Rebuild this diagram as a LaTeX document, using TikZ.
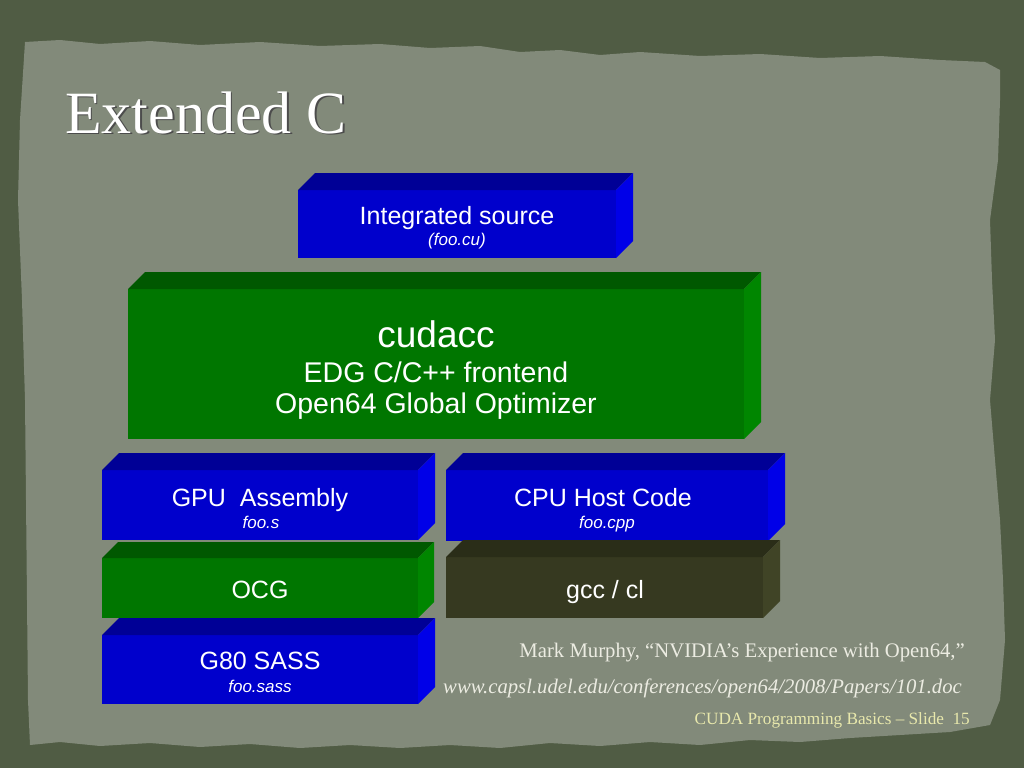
\documentclass[tikz,border=0pt]{standalone}
\usepackage{fontspec}
\newfontfamily\arialf{Liberation Sans}
\newfontfamily\serf{Liberation Serif}
\definecolor{outerbg}{RGB}{80,92,68}
\definecolor{paper}{RGB}{130,138,122}
\definecolor{bfront}{RGB}{0,0,204}
\definecolor{btop}{RGB}{0,0,150}
\definecolor{bside}{RGB}{0,0,232}
\definecolor{gfront}{RGB}{0,118,0}
\definecolor{gtop}{RGB}{0,88,0}
\definecolor{gside}{RGB}{0,134,0}
\definecolor{ofront}{RGB}{54,57,32}
\definecolor{otop}{RGB}{42,45,24}
\definecolor{oside}{RGB}{64,68,38}
\definecolor{citecol}{RGB}{236,236,226}
\definecolor{footcol}{RGB}{232,232,172}
\newcommand\boxfaces[4]{%
  \fill[#2] (#1.north west) -- ++(#4,-#4) -- ([shift={(#4,-#4)}]#1.north east) -- (#1.north east) -- cycle;
  \fill[#3] (#1.north east) -- ++(#4,-#4) -- ([shift={(#4,-#4)}]#1.south east) -- (#1.south east) -- cycle;}
\tikzset{
  face/.style={inner sep=0pt, outer sep=0pt},
  lbl/.style={inner sep=0pt, text=white, font=\arialf, anchor=base},
  cite/.style={inner sep=0pt, anchor=base east, text=citecol},
}
\begin{document}
\begin{tikzpicture}[x=1pt,y=-1pt]
\useasboundingbox (0,0) rectangle (1024,768);
\fill[outerbg] (0,0) rectangle (1024,768);
\fill[paper] (25,42) -- (60,40) -- (100,44) -- (150,41) -- (200,45) -- (260,42) -- (320,46) -- (380,44) -- (430,48) -- (480,46) -- (520,52) -- (560,50) -- (600,55) -- (640,52) -- (700,56) -- (760,54) -- (820,58) -- (880,56) -- (940,60) -- (985,62) -- (1000,70)
 -- (1000,100) -- (998,160) -- (990,220) -- (992,280) -- (995,340) -- (990,400) -- (995,460) -- (1000,520) -- (1003,580) -- (1005,640) -- (1000,700) -- (990,725)
 -- (950,732) -- (900,735) -- (850,738) -- (800,742) -- (750,740) -- (700,745) -- (650,742) -- (600,746) -- (550,743) -- (500,748) -- (450,745) -- (400,748) -- (350,745) -- (300,748) -- (250,744) -- (200,747) -- (150,743) -- (100,746) -- (60,742) -- (30,745)
 -- (28,700) -- (27,600) -- (26,500) -- (25,400) -- (22,300) -- (18,200) -- (20,120) -- cycle;

% title
\node[inner sep=0pt, anchor=base west, text=black!70, font=\serf\fontsize{60}{66}\selectfont] (titlesh) at (66.5,134.5) {Extended C};
\node[inner sep=0pt, anchor=base west, text=white, font=\serf\fontsize{60}{66}\selectfont] (title) at (65,133) {Extended C};

% integrated source
\node[face, fill=bfront, minimum width=318pt, minimum height=68pt] (src) at (457,224) {};
\boxfaces{src}{btop}{bside}{17}
\node[lbl, font=\arialf\fontsize{25}{30}\selectfont] (srct) at (457,224) {Integrated source};
\node[lbl, font=\arialf\itshape\fontsize{17}{20}\selectfont] (srcf) at (457,245) {(foo.cu)};

% cudacc
\node[face, fill=gfront, minimum width=616pt, minimum height=150pt] (cc) at (436,364) {};
\boxfaces{cc}{gtop}{gside}{17}
\node[lbl, font=\arialf\fontsize{37}{44}\selectfont] (cct) at (436,347) {cudacc};
\node[lbl, font=\arialf\fontsize{28.5}{34}\selectfont] (edg) at (436,382) {EDG C/C++ frontend};
\node[lbl, font=\arialf\fontsize{28.5}{34}\selectfont] (o64) at (436,413) {Open64 Global Optimizer};

% left column
\node[face, fill=bfront, minimum width=316pt, minimum height=70pt] (gpu) at (260,505) {};
\boxfaces{gpu}{btop}{bside}{17}
\node[lbl, font=\arialf\fontsize{25}{30}\selectfont] (gput) at (260,506) {GPU\ \ Assembly};
\node[lbl, font=\arialf\itshape\fontsize{17}{20}\selectfont] (gpuf) at (261,528) {foo.s};

\node[face, fill=gfront, minimum width=316pt, minimum height=60pt] (ocg) at (260,588) {};
\boxfaces{ocg}{gtop}{gside}{16}
\node[lbl, font=\arialf\fontsize{25}{30}\selectfont] (ocgt) at (260,598) {OCG};

\node[face, fill=bfront, minimum width=316pt, minimum height=69pt] (sass) at (260,669.5) {};
\boxfaces{sass}{btop}{bside}{17}
\node[lbl, font=\arialf\fontsize{25}{30}\selectfont] (sasst) at (260,669) {G80 SASS};
\node[lbl, font=\arialf\itshape\fontsize{17}{20}\selectfont] (sassf) at (260,692) {foo.sass};

% right column
\node[face, fill=bfront, minimum width=322pt, minimum height=71pt] (cpu) at (607,505.5) {};
\boxfaces{cpu}{btop}{bside}{17}
\node[lbl, font=\arialf\fontsize{25}{30}\selectfont] (cput) at (603,506) {CPU Host Code};
\node[lbl, font=\arialf\itshape\fontsize{17}{20}\selectfont] (cpuf) at (607,528) {foo.cpp};

\node[face, fill=ofront, minimum width=317pt, minimum height=61pt] (gcc) at (604.5,587.5) {};
\boxfaces{gcc}{otop}{oside}{17}
\node[lbl, font=\arialf\fontsize{25}{30}\selectfont] (gcct) at (605,598) {gcc / cl};

% citation
\node[cite, font=\serf\fontsize{20.7}{24}\selectfont] (c1) at (965,657) {Mark Murphy, “NVIDIA’s Experience with Open64,”};
\node[cite, font=\serf\itshape\fontsize{20.7}{24}\selectfont] (c2) at (962,693) {www.capsl.udel.edu/conferences/open64/2008/Papers/101.doc};
\node[cite, text=footcol, font=\serf\fontsize{17.2}{20}\selectfont] (c3) at (970,724) {CUDA Programming Basics – Slide\ \ 15};
\end{tikzpicture}
\end{document}
